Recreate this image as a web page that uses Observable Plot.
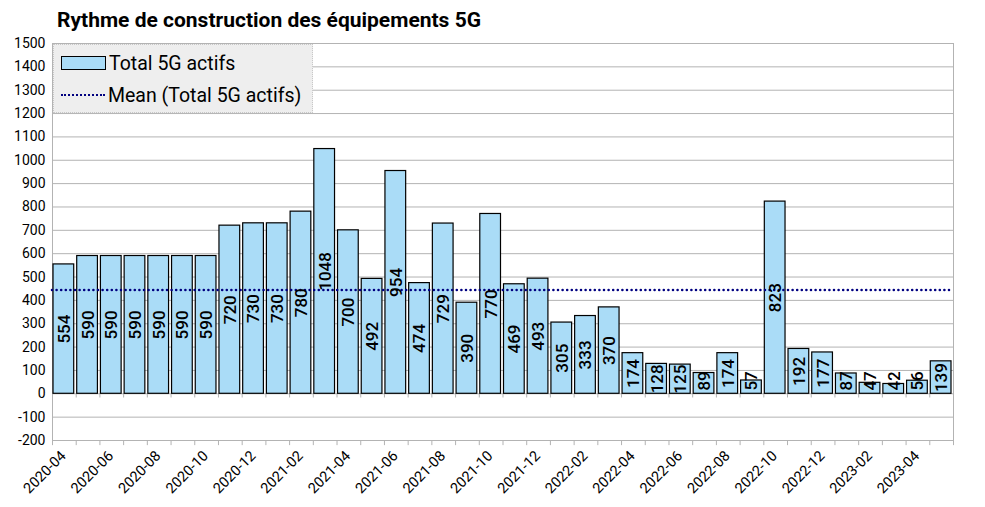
<!DOCTYPE html>
<html><head><meta charset="utf-8">
<script src="https://cdn.jsdelivr.net/npm/d3@7"></script>
<script src="https://cdn.jsdelivr.net/npm/@observablehq/plot@0.6"></script>
<style>
body{margin:0;background:#fff;font-family:Roboto,sans-serif;}
#wrap{position:relative;width:985px;height:507px;}
#title{height:36px;line-height:30px;padding-left:57px;font-family:Roboto,sans-serif;font-weight:bold;font-size:21px;color:#000;padding-top:5px;box-sizing:border-box;white-space:nowrap;}
#legend{position:absolute;left:53px;top:44px;width:260px;height:69px;background:#eeeeee;border:1px dotted #c8c8c8;box-sizing:border-box;font-size:19.5px;color:#000;}
.li{position:absolute;left:7px;height:24px;display:flex;align-items:center;white-space:nowrap;}
.sw{width:43px;height:12px;background:#aadcf7;border:1px solid #000;margin-right:3px;}
.dl{width:44px;height:0;border-top:2.5px dotted #000080;margin-right:3px;}
</style></head>
<body>
<div id="wrap">
<div id="title">Rythme de construction des équipements 5G</div>
<div id="chart"></div>
<div id="legend">
  <div class="li" style="top:6px"><div class="sw"></div>Total 5G actifs</div>
  <div class="li" style="top:38px"><div class="dl"></div>Mean (Total 5G actifs)</div>
</div>
</div>
<script>
const months = ["2020-04","2020-05","2020-06","2020-07","2020-08","2020-09","2020-10","2020-11","2020-12",
"2021-01","2021-02","2021-03","2021-04","2021-05","2021-06","2021-07","2021-08","2021-09","2021-10","2021-11","2021-12",
"2022-01","2022-02","2022-03","2022-04","2022-05","2022-06","2022-07","2022-08","2022-09","2022-10","2022-11","2022-12",
"2023-01","2023-02","2023-03","2023-04","2023-05"];
const values = [554,590,590,590,590,590,590,720,730,730,780,1048,700,492,954,474,729,390,770,469,493,
305,333,370,174,128,125,89,174,57,823,192,177,87,47,42,56,139];
const yTicks = d3.range(-200,1501,100);
const mean = d3.mean(values);

const data = months.map((m,i)=>({i, m, v: values[i]}));
const bounds = d3.range(0, months.length+1);
const labelled = data.filter(d => d.i % 2 === 0);
const grid = "#b3b3b3";

const chart = Plot.plot({
  width: 985, height: 471,
  marginLeft: 52, marginRight: 32, marginTop: 7, marginBottom: 67,
  style: {fontFamily: 'Roboto, sans-serif', fontSize: "14px", color: "#000", background: "#fff"},
  x: {type: "linear", domain: [0, months.length], axis: null},
  y: {domain: [-200, 1500], ticks: yTicks, axis: null},
  marks: [
    Plot.ruleY(yTicks, {stroke: grid, strokeWidth: 1}),
    Plot.ruleX([0, months.length], {y1: -200, y2: 1500, stroke: grid}),
    Plot.ruleX(bounds, {x: d => d, y1: -200, y2: -222, stroke: grid}),
    Plot.ruleX(bounds, {x: d => d, y1: 0, y2: -18, stroke: grid}),
    Plot.text(yTicks, {x: 0, y: d => d, text: d => String(d), textAnchor: "end", dx: -7, fontSize: 14, fill: "#000"}),
    Plot.ruleY(yTicks, {x1: 0, x2: 0, stroke: grid}),
    Plot.rectY(data, {x1: d => d.i, x2: d => d.i + 1, y1: 0, y2: "v", insetLeft: 1, insetRight: 2, fill: "#aadcf7", stroke: "#000", strokeWidth: 1.2}),
    Plot.ruleY([mean], {stroke: "#000080", strokeWidth: 2.6, strokeDasharray: "0,4.6", strokeLinecap: "round"}),
    Plot.text(data, {x: d => d.i + 0.5, y: d => Math.max(d.v / 2, 55), text: d => String(d.v), rotate: -90, fontSize: 17, fontWeight: 500, fill: "#000"}),
    Plot.text(labelled, {x: "i", y: -200, text: "m", rotate: -45, textAnchor: "end", dx: 11, dy: 13, fontSize: 14.5, fill: "#000"})
  ]
});
document.getElementById("chart").appendChild(chart);
</script>
</body></html>
